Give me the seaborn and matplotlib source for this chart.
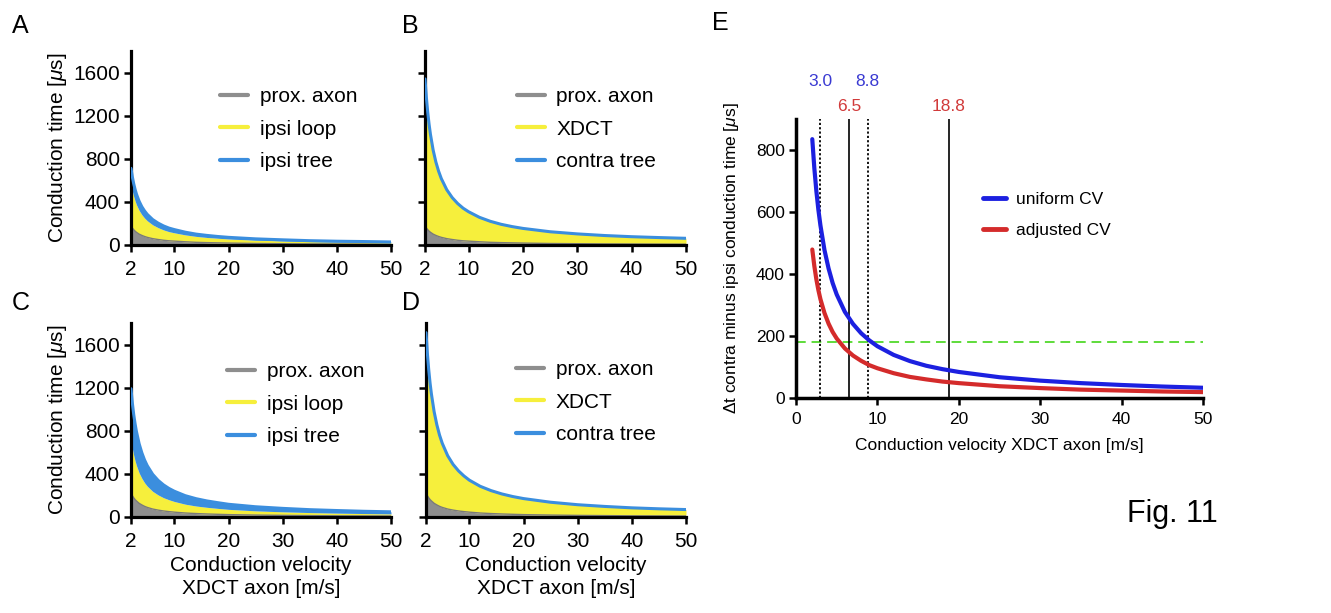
import numpy as np
import pandas as pd
import matplotlib
matplotlib.use("Agg")
import matplotlib.pyplot as plt
import seaborn as sns
from matplotlib.lines import Line2D

# ---------------- data ----------------
cv = [2, 2.25, 2.5, 2.75, 3, 3.5, 4, 4.5, 5, 6, 7, 8, 9, 10, 12, 14, 16, 18, 20, 25, 30, 35, 40, 45, 50]

# Panel A
a_prox = [178, 158, 142, 129, 118, 101, 89, 79, 71, 59, 51, 44, 39, 36, 30, 25, 22, 20, 18, 14, 12, 10, 9, 8, 7]
a_loop = [385, 342, 308, 280, 256, 220, 192, 171, 154, 128, 110, 96, 85, 77, 64, 55, 48, 43, 38, 31, 26, 22, 19, 17, 15]
a_tree = [148, 132, 118, 108, 99, 85, 74, 66, 59, 49, 42, 37, 33, 30, 25, 21, 19, 16, 15, 12, 10, 8, 7, 7, 6]
# Panel B
b_prox = [178, 158, 142, 129, 118, 101, 89, 79, 71, 59, 51, 44, 39, 36, 30, 25, 22, 20, 18, 14, 12, 10, 9, 8, 7]
b_xdct = [1323, 1176, 1058, 962, 882, 756, 661, 588, 529, 441, 378, 331, 294, 265, 220, 189, 165, 147, 132, 106, 88, 76, 66, 59, 53]
b_tree = [40, 36, 32, 29, 27, 23, 20, 18, 16, 13, 11, 10, 9, 8, 7, 6, 5, 4, 4, 3, 3, 2, 2, 2, 2]
# Panel C
c_prox = [223, 198, 178, 162, 149, 127, 112, 99, 89, 74, 64, 56, 50, 45, 37, 32, 28, 25, 22, 18, 15, 13, 11, 10, 9]
c_loop = [493, 438, 394, 359, 329, 282, 247, 219, 197, 164, 141, 123, 110, 99, 82, 70, 62, 55, 49, 39, 33, 28, 25, 22, 20]
c_tree = [474, 421, 379, 345, 316, 271, 237, 211, 190, 158, 135, 119, 105, 95, 79, 68, 59, 53, 47, 38, 32, 27, 24, 21, 19]
# Panel D
d_prox = [223, 198, 178, 162, 149, 127, 112, 99, 89, 74, 64, 56, 50, 45, 37, 32, 28, 25, 22, 18, 15, 13, 11, 10, 9]
d_xdct = [1447, 1286, 1158, 1052, 965, 827, 724, 643, 579, 482, 413, 362, 322, 289, 241, 207, 181, 161, 145, 116, 96, 83, 72, 64, 58]
d_tree = [40, 36, 32, 29, 27, 23, 20, 18, 16, 13, 11, 10, 9, 8, 7, 6, 5, 4, 4, 3, 3, 2, 2, 2, 2]
# Panel E
e_uniform = [835, 742, 668, 607, 557, 477, 418, 371, 334, 278, 239, 209, 186, 167, 139, 119, 104, 93, 84, 67, 56, 48, 42, 37, 33]
e_adjusted = [479, 426, 383, 348, 319, 274, 240, 213, 192, 160, 137, 120, 106, 96, 80, 68, 60, 53, 48, 38, 32, 27, 24, 21, 19]
e_series = ["uniform CV", "adjusted CV"]
dotted_cv = [3.0, 8.8]
solid_cv = [6.5, 18.8]
threshold = 180

ipsi_labels = ["prox. axon", "ipsi loop", "ipsi tree"]
contra_labels = ["prox. axon", "XDCT", "contra tree"]
xticks_small = [2, 10, 20, 30, 40, 50]
yticks_small = [0, 400, 800, 1200, 1600]
xticks_e = [0, 10, 20, 30, 40, 50]
yticks_e = [0, 200, 400, 600, 800]

# ---------------- style ----------------
sns.set_theme(style="ticks")
plt.rcParams['font.family'] = ['Liberation Sans', 'DejaVu Sans']
plt.rcParams['mathtext.fontset'] = 'custom'
plt.rcParams['mathtext.rm'] = 'Liberation Sans'
plt.rcParams['mathtext.it'] = 'Liberation Sans:italic'
for k in ("text.color", "axes.labelcolor", "xtick.color", "ytick.color", "axes.edgecolor"):
    plt.rcParams[k] = "black"

GRAY = "#8e8e8e"
YELLOW = "#f6ef3c"
BLUE = "#3b8ede"
E_BLUE = "#1c20e0"
E_RED = "#d42b2b"
LBL_BLUE = "#3a3ad2"
LBL_RED = "#d13a3a"
GREEN = "#5edc3a"

W, H = 1331, 613
fig = plt.figure(figsize=(W / 100, H / 100), dpi=100)


def add_ax(l, r, b, t):
    return fig.add_axes([l / W, (H - b) / H, (r - l) / W, (b - t) / H])


def style_axes(ax, fs, lw):
    sns.despine(ax=ax)
    for s in ("left", "bottom"):
        ax.spines[s].set_linewidth(lw)
        ax.spines[s].set_color("black")
    ax.tick_params(direction="out", length=5, width=1.8, colors="black",
                   labelsize=fs, pad=3)


def stacked_panel(ax, comps, labels, show_ylab, show_xlab, leg_xy):
    df = pd.DataFrame({"cv": cv})
    lower = np.zeros(len(cv))
    cols = [GRAY, YELLOW, BLUE]
    tops = []
    for vals, col in zip(comps, cols):
        upper = lower + np.asarray(vals, dtype=float)
        ax.fill_between(df["cv"], lower, upper, color=col, lw=0, zorder=1)
        tops.append(upper)
        lower = upper
    sns.lineplot(x=df["cv"], y=tops[0], color="#7a7a7a", lw=1.0, ax=ax, zorder=2)
    sns.lineplot(x=df["cv"], y=tops[2], color=BLUE, lw=2.2, ax=ax, zorder=3)
    ax.set_xlim(2, 50)
    ax.set_ylim(0, 1800)
    ax.set_xticks(xticks_small)
    ax.set_yticks(yticks_small)
    style_axes(ax, 15, 2.3)
    ax.tick_params(axis="x", pad=6)
    if show_ylab:
        ax.set_ylabel(r"Conduction time [$\mu$s]", fontsize=15)
        ax.yaxis.set_label_coords(-0.24, 0.5)
    else:
        ax.set_ylabel("")
        ax.set_yticklabels([])
    if show_xlab:
        ax.set_xlabel("Conduction velocity\nXDCT axon [m/s]", fontsize=15,
                      linespacing=1.3)
        ax.xaxis.set_label_coords(0.5, -0.2)
    else:
        ax.set_xlabel("")
    handles = [Line2D([], [], color=c, lw=3) for c in cols]
    ax.legend(handles, labels, loc="upper left", bbox_to_anchor=leg_xy,
              frameon=False, borderpad=0, borderaxespad=0, fontsize=15,
              handlelength=1.35, handletextpad=0.55, labelspacing=0.66)


axA = add_ax(131, 391, 245, 51)
axB = add_ax(425, 686, 245, 51)
axC = add_ax(131, 391, 517, 323)
axD = add_ax(426, 686, 517, 323)

stacked_panel(axA, [a_prox, a_loop, a_tree], ipsi_labels, True, False, (0.342, 0.815))
stacked_panel(axB, [b_prox, b_xdct, b_tree], contra_labels, False, False, (0.352, 0.815))
stacked_panel(axC, [c_prox, c_loop, c_tree], ipsi_labels, True, True, (0.369, 0.80))
stacked_panel(axD, [d_prox, d_xdct, d_tree], contra_labels, False, True, (0.346, 0.81))

# ---------------- panel E ----------------
axE = add_ax(796, 1203, 398, 119)
dfe = pd.DataFrame({"cv": cv * 2,
                    "dt": e_uniform + e_adjusted,
                    "model": [e_series[0]] * len(cv) + [e_series[1]] * len(cv)})
sns.lineplot(data=dfe, x="cv", y="dt", hue="model",
             palette={e_series[0]: E_BLUE, e_series[1]: E_RED},
             lw=3.0, ax=axE, legend=False, zorder=3)
for x in dotted_cv:
    axE.axvline(x, color="black", lw=1.3, ls=(0, (1.2, 1.2)), zorder=2)
for x in solid_cv:
    axE.axvline(x, color="black", lw=1.2, zorder=2)
axE.axhline(threshold, color=GREEN, lw=1.4, ls=(0, (5, 3)), zorder=1)
axE.set_xlim(0, 50)
axE.set_ylim(0, 900)
axE.set_xticks(xticks_e)
axE.set_yticks(yticks_e)
style_axes(axE, 12.5, 2.5)
axE.tick_params(axis="x", pad=5)
axE.set_ylabel(r"Δt contra minus ipsi conduction time [$\mu$s]", fontsize=12.5)
axE.yaxis.set_label_coords(-0.135, 0.5)
axE.set_xlabel("Conduction velocity XDCT axon [m/s]", fontsize=12.5)
axE.xaxis.set_label_coords(0.5, -0.145)

for x in dotted_cv:
    axE.text(x, 1020, f"{x:.1f}", color=LBL_BLUE, fontsize=12.5,
             ha="center", va="center")
for x in solid_cv:
    axE.text(x, 940, f"{x:.1f}", color=LBL_RED, fontsize=12.5,
             ha="center", va="center")

e_handles = [Line2D([], [], color=E_BLUE, lw=3.5), Line2D([], [], color=E_RED, lw=3.5)]
axE.legend(e_handles, e_series, loc="upper left", bbox_to_anchor=(0.459, 0.74),
           frameon=False, borderpad=0, borderaxespad=0, fontsize=12.5,
           handlelength=1.35, handletextpad=0.55, labelspacing=0.94)

# ---------------- panel letters ----------------
for lab, px, py in [("A", 12, 33), ("B", 402, 33), ("C", 12, 310), ("D", 402, 310), ("E", 712, 30)]:
    fig.text(px / W, 1 - py / H, lab, fontsize=18, va="baseline", ha="left")
fig.text(1127 / W, 1 - 522 / H, "Fig. 11", fontsize=22, va="baseline", ha="left")

fig.savefig("out.png", dpi=100, facecolor="white")
